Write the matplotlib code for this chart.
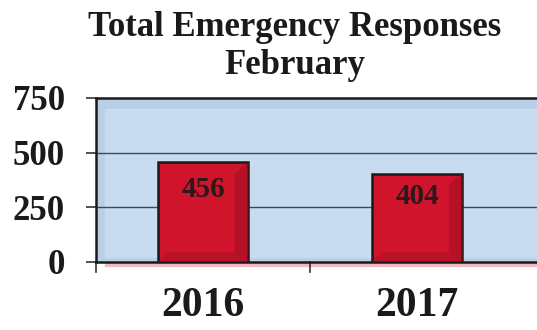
import matplotlib
matplotlib.use("Agg")
import matplotlib.pyplot as plt
import numpy as np

categories = ["2016", "2017"]
values = [456, 404]
yticks = [0, 250, 500, 750]

plt.rcParams['font.family'] = ['Liberation Serif', 'DejaVu Serif']

fig = plt.figure(figsize=(5.37, 3.30), dpi=100)
fig.patch.set_facecolor('white')
W, H = 537, 330
left, right = 96 / W, 545 / W
top, bottom = 1 - 98 / H, 1 - 262 / H
ax = fig.add_axes([left, bottom, right - left, top - bottom])
ax.set_facecolor('#b9cfe6')

x = np.arange(len(categories))
ax.set_xlim(-0.5, 1.5 + (545 - 524) / 214)
ax.set_ylim(0, 750)

# inner panel (bevel look)
ax.axhspan(25, 700, xmin=0.02, xmax=0.985, color='#c9dcef', zorder=0)
for yv in [250, 500]:
    ax.axhline(yv, color='#2f4f5f', lw=1.0, zorder=1)

bars = ax.bar(x, values, width=0.425, color='#d0142c', edgecolor='#1a1a1a',
              linewidth=1.8, zorder=3)
for b, v in zip(bars, values):
    x0 = b.get_x()
    w = b.get_width()
    # bevel shading on right and bottom sides
    ax.fill([x0 + w * 0.85, x0 + w, x0 + w, x0 + w * 0.85],
            [v - 50, v, 0, 45], color='#9e1024', alpha=0.55, zorder=4, lw=0)
    ax.fill([x0, x0 + w, x0 + w * 0.85, x0 + w * 0.12],
            [0, 0, 45, 45], color='#9e1024', alpha=0.45, zorder=4, lw=0)
    ax.text(x0 + w / 2, v - 125 if v > 430 else v - 105, str(v), ha='center', va='center',
            fontsize=21, fontweight='bold', color='#2a1a1a', zorder=5)

ax.set_yticks(yticks)
ax.set_yticklabels([str(t) for t in yticks], fontsize=25, fontweight='bold', color='#1a1a1a')
ax.set_xticks(x)
ax.set_xticklabels(categories, fontsize=30, fontweight='bold', color='#1a1a1a')
ax.tick_params(axis='x', length=0, pad=18)
ax.tick_params(axis='y', length=7.5, width=1.2, color='#333333', pad=15)
# category separator ticks
ax.plot([0.5, 0.5], [0, -45], color='#333333', lw=1.2, clip_on=False)
ax.plot([-0.5, -0.5], [0, -45], color='#333333', lw=1.2, clip_on=False)
# pink shadow below axis
ax.plot([-0.45, 1.6], [-12, -12], color='#f0b8c0', lw=3, clip_on=False, zorder=0)

for s in ax.spines.values():
    s.set_color('#1a1a1a')
    s.set_linewidth(1.8)

fig.text(295 / W, 1 - 27 / H, "Total Emergency Responses", ha='center', va='center',
         fontsize=25, fontweight='bold', color='#1a1a1a')
fig.text(295 / W, 1 - 66 / H, "February", ha='center', va='center',
         fontsize=25, fontweight='bold', color='#1a1a1a')

fig.savefig("out.png", dpi=100)
